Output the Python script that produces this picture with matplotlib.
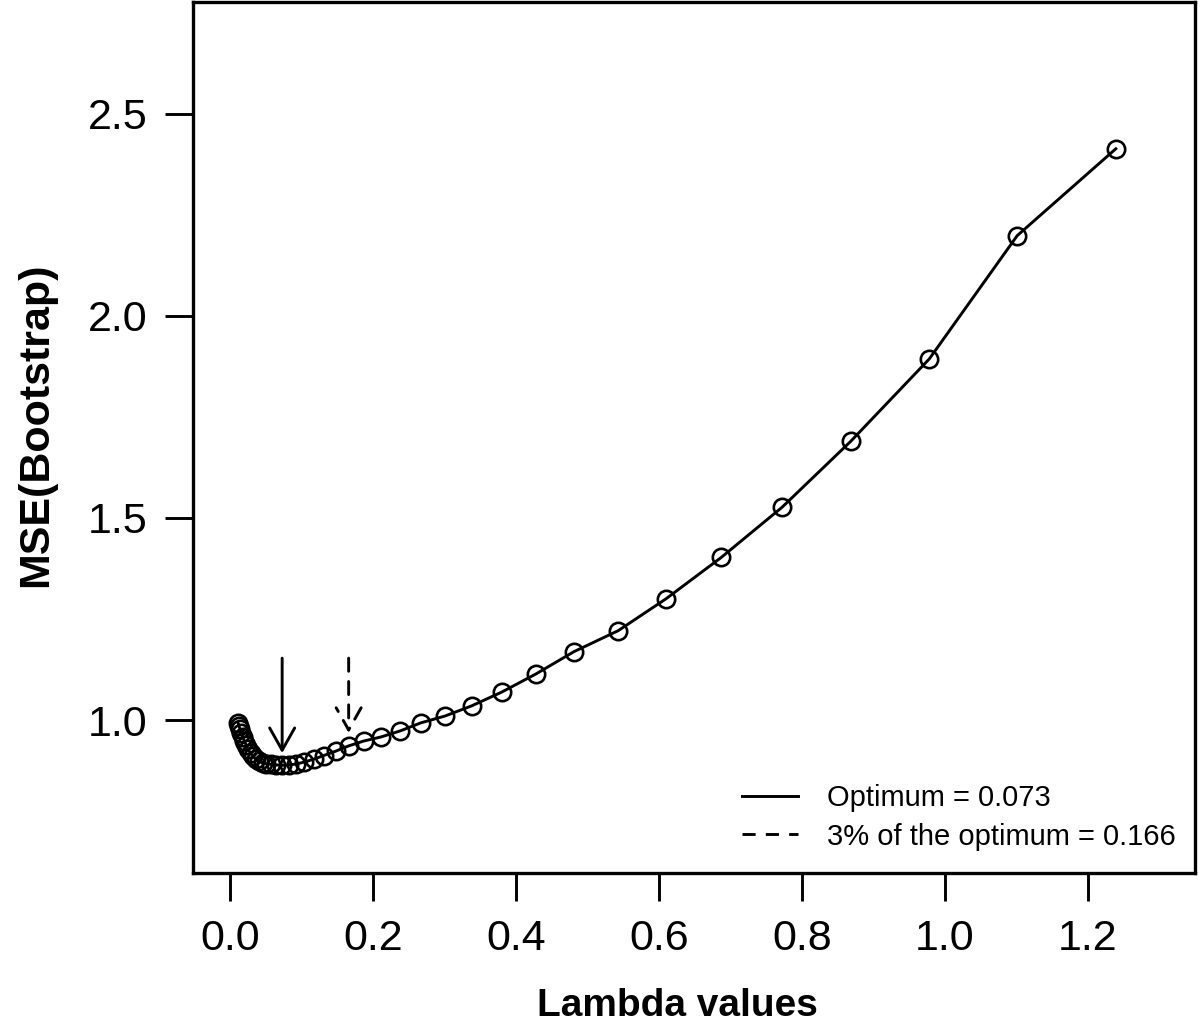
import matplotlib
matplotlib.use("Agg")
import matplotlib.pyplot as plt
from matplotlib.lines import Line2D

# ---- data ----
lambdas = [0.0113, 0.0127, 0.014, 0.016, 0.018, 0.020, 0.023, 0.025, 0.029, 0.032,
           0.036, 0.041, 0.046, 0.051, 0.058, 0.065, 0.073, 0.082, 0.092, 0.104,
           0.117, 0.131, 0.148, 0.166, 0.187, 0.211, 0.238, 0.267, 0.301, 0.338,
           0.380, 0.428, 0.481, 0.543, 0.610, 0.687, 0.772, 0.868, 0.978, 1.101, 1.239]
mse = [0.993, 0.985, 0.977, 0.968, 0.958, 0.948, 0.937, 0.928, 0.918, 0.910,
       0.903, 0.898, 0.894, 0.892, 0.890, 0.889, 0.888, 0.889, 0.891, 0.896,
       0.903, 0.912, 0.923, 0.936, 0.948, 0.958, 0.973, 0.993, 1.010, 1.035,
       1.069, 1.114, 1.169, 1.221, 1.300, 1.402, 1.526, 1.689, 1.893, 2.198, 2.413]
optimum = 0.073
optimum3 = 0.166
arrow_top = 1.153
opt_tip = 0.918
opt3_tip = 0.968
legend_labels = ["Optimum = 0.073", "3% of the optimum = 0.166"]
xticks = [0.0, 0.2, 0.4, 0.6, 0.8, 1.0, 1.2]
yticks = [1.0, 1.5, 2.0, 2.5]

W, H = 1200, 1033
fig = plt.figure(figsize=(W / 100, H / 100), dpi=100)
ax = fig.add_axes([193 / W, 1 - 873 / H, (1195 - 193) / W, (873 - 2) / H])

LW = 2.1
ax.plot(lambdas, mse, color="black", lw=LW, marker="o", markersize=12.5,
        markerfacecolor="none", markeredgecolor="black", markeredgewidth=1.9)

dash = (0, (4.5, 3.5))
ax.annotate("", xy=(optimum, opt_tip), xytext=(optimum, arrow_top),
            arrowprops=dict(arrowstyle="->, head_length=0.8, head_width=0.45",
                            lw=LW, color="black", shrinkA=0, shrinkB=0,
                            mutation_scale=20))
ax.annotate("", xy=(optimum3, opt3_tip), xytext=(optimum3, arrow_top),
            arrowprops=dict(arrowstyle="->, head_length=0.8, head_width=0.45",
                            lw=LW, color="black", shrinkA=0, shrinkB=0,
                            mutation_scale=20, linestyle=dash))

ax.set_xlim(-0.0517, 1.3497)
ax.set_ylim(0.6216, 2.776)
ax.set_xticks(xticks)
ax.set_xticklabels([f"{t:.1f}" for t in xticks])
ax.set_yticks(yticks)
ax.set_yticklabels([f"{t:.1f}" for t in yticks])

for s in ax.spines.values():
    s.set_linewidth(2.4)
ax.tick_params(axis="both", direction="out", length=20, width=2.1,
               labelsize=31, pad=13)
for lab in ax.get_xticklabels() + ax.get_yticklabels():
    lab.set_family(["Liberation Sans", "DejaVu Sans"])

fig.text(677 / W, 1 - 1006 / H, "Lambda values", ha="center", va="center",
         fontsize=28, fontweight="bold", family=["Liberation Sans", "DejaVu Sans"])
fig.text(36 / W, 1 - 425 / H, "MSE(Bootstrap)", ha="center", va="center",
         rotation=90, fontsize=31, fontweight="bold",
         family=["Liberation Sans", "DejaVu Sans"])

handles = [Line2D([], [], color="black", lw=LW),
           Line2D([], [], color="black", lw=LW, linestyle=dash)]
leg = ax.legend(handles, legend_labels, loc="center left",
                bbox_to_anchor=(742 / W, 1 - 817.5 / H),
                bbox_transform=fig.transFigure, frameon=False,
                prop={"family": ["Liberation Sans", "DejaVu Sans"], "size": 21},
                handlelength=1.92, handletextpad=1.0, labelspacing=0.35,
                borderpad=0, borderaxespad=0)

fig.savefig("out.png", dpi=100)
